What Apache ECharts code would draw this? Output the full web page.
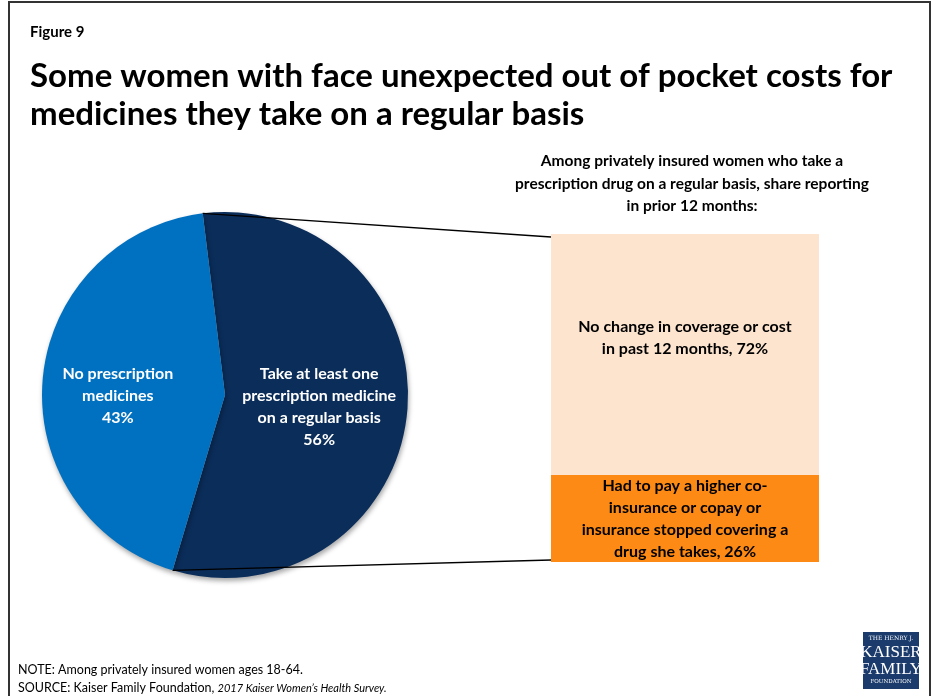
<!DOCTYPE html>
<html>
<head>
<meta charset="utf-8">
<script src="https://cdn.jsdelivr.net/npm/echarts@6/dist/echarts.min.js"></script>
<style>
  html, body { margin: 0; padding: 0; background: #ffffff; }
  #chart { width: 937px; height: 696px; }
</style>
</head>
<body>
<div id="chart"></div>
<script>
// Pie: share of privately insured women taking prescription medicine
const pieNames = [
  'Take at least one\nprescription medicine\non a regular basis',
  'No prescription\nmedicines'
];
const pieValues = [56, 43];

// Bar: experience in the prior 12 months among those taking a drug (bottom first)
const barNames = [
  'Had to pay a higher co-\ninsurance or copay or\ninsurance stopped covering a\ndrug she takes',
  'No change in coverage or cost\nin past 12 months'
];
const barValues = [26, 72];

const FONT = 'Lato, "Open Sans", sans-serif';
const pieColors = ['#0B2D5A', '#0070C0'];
const barColors = ['#FD8A14', '#FDE4CE'];

const pieCenter = [225, 395];
const pieRadius = 183;
const pieStart = 97;
const barGrid = { left: 551, top: 234, width: 268, height: 328 };

const pieTotal = pieValues.reduce((a, b) => a + b, 0);
const barTotal = barValues.reduce((a, b) => a + b, 0);

const chart = echarts.init(document.getElementById('chart'), null, { renderer: 'canvas' });

const pieLabelOffsets = [[0, 4], [-13, 9]];
const barLabelOffsets = [[0, 0], [0, -17]];

const option = {
  backgroundColor: '#ffffff',
  animation: false,
  title: [
    {
      text: 'Figure 9',
      left: 30, top: 25, padding: 0,
      textStyle: { fontFamily: FONT, fontWeight: 'bold', fontSize: 15, color: '#000' }
    },
    {
      text: 'Some women with face unexpected out of pocket costs for\nmedicines they take on a regular basis',
      left: 30, top: 57, padding: 0,
      textStyle: { fontFamily: FONT, fontWeight: 'bold', fontSize: 33, lineHeight: 38, color: '#000' }
    }
  ],
  grid: {
    left: barGrid.left, top: barGrid.top,
    width: barGrid.width, height: barGrid.height
  },
  xAxis: { type: 'category', data: ['share'], show: false },
  yAxis: { type: 'value', min: 0, max: barTotal, show: false },
  series: [
    {
      type: 'pie',
      center: pieCenter,
      radius: pieRadius,
      startAngle: pieStart,
      clockwise: true,
      silent: true,
      labelLine: { show: false },
      itemStyle: {
        borderWidth: 0,
        shadowBlur: 5,
        shadowOffsetX: 1,
        shadowOffsetY: 3,
        shadowColor: 'rgba(0,0,0,0.35)'
      },
      label: {
        show: true,
        position: 'inside',
        color: '#ffffff',
        fontFamily: FONT,
        fontWeight: 'bold',
        fontSize: 16,
        lineHeight: 22,
        align: 'center',
        formatter: p => p.name + '\n' + p.value + '%'
      },
      data: pieValues.map((v, i) => ({
        name: pieNames[i],
        value: v,
        itemStyle: { color: pieColors[i] },
        label: { offset: pieLabelOffsets[i] }
      }))
    },
    ...barValues.map((v, i) => ({
      type: 'bar',
      stack: 'total',
      barWidth: '100%',
      silent: true,
      name: barNames[i],
      itemStyle: { color: barColors[i] },
      label: {
        show: true,
        position: 'inside',
        color: '#000000',
        fontFamily: FONT,
        fontWeight: 'bold',
        fontSize: 16,
        lineHeight: 22,
        align: 'center',
        offset: barLabelOffsets[i],
        formatter: () => barNames[i] + ', ' + v + '%'
      },
      data: [v]
    }))
  ]
};

chart.setOption(option);

// Connector lines from the edges of the "take medicine" slice to the bar
const toRad = d => d * Math.PI / 180;
const a0 = pieStart;
const a1 = pieStart - pieValues[0] / pieTotal * 360;
const edge = a => [pieCenter[0] + pieRadius * Math.cos(toRad(a)), pieCenter[1] - pieRadius * Math.sin(toRad(a))];
const pTop = edge(a0);
const pBottom = edge(a1);
const barTopY = chart.convertToPixel({ yAxisIndex: 0 }, barTotal);
const barBottomY = chart.convertToPixel({ yAxisIndex: 0 }, 0);

chart.setOption({
  graphic: [
    {
      type: 'rect', z: 100, silent: true,
      shape: { x: 9, y: 2, width: 921, height: 720 },
      style: { fill: 'none', stroke: '#333333', lineWidth: 2 }
    },
    {
      type: 'line', z: 50, silent: true,
      shape: { x1: pTop[0], y1: pTop[1], x2: barGrid.left, y2: barTopY + 3 },
      style: { stroke: '#000000', lineWidth: 1.3 }
    },
    {
      type: 'line', z: 50, silent: true,
      shape: { x1: pBottom[0], y1: pBottom[1], x2: barGrid.left, y2: barBottomY - 2 },
      style: { stroke: '#000000', lineWidth: 1.3 }
    },
    {
      type: 'text', silent: true,
      x: 692, y: 150,
      style: {
        text: 'Among privately insured women who take a\nprescription drug on a regular basis, share reporting\nin prior 12 months:',
        align: 'center', verticalAlign: 'top',
        fontFamily: FONT, fontWeight: 'bold', fontSize: 15.5, lineHeight: 22.5, fill: '#000'
      }
    },
    {
      type: 'text', silent: true,
      x: 18, y: 661,
      style: {
        text: '{n|NOTE: Among privately insured women ages 18-64.}\n{n|SOURCE: Kaiser Family Foundation, }{i|2017 Kaiser Women\u2019s Health Survey.}',
        align: 'left', verticalAlign: 'top',
        lineHeight: 18,
        rich: {
          n: { fontFamily: FONT, fontSize: 12.5, fill: '#000', lineHeight: 18 },
          i: { fontFamily: FONT, fontSize: 11, fontStyle: 'italic', fill: '#000', lineHeight: 18 }
        }
      }
    },
    {
      type: 'group', silent: true,
      x: 863, y: 632,
      children: [
        { type: 'rect', shape: { x: 0, y: 0, width: 56, height: 57 }, style: { fill: '#1A3B6C' } },
        { type: 'text', x: 28, y: 3, style: { text: 'THE HENRY J.', align: 'center', verticalAlign: 'top', fontFamily: '"DejaVu Serif", serif', fontSize: 6, fill: '#ffffff' } },
        { type: 'text', x: 28, y: 12, style: { text: 'KAISER', align: 'center', verticalAlign: 'top', fontFamily: '"Liberation Serif", serif', fontSize: 17, fill: '#ffffff' } },
        { type: 'text', x: 28, y: 29, style: { text: 'FAMILY', align: 'center', verticalAlign: 'top', fontFamily: '"Liberation Serif", serif', fontSize: 17, fill: '#ffffff' } },
        { type: 'text', x: 28, y: 47, style: { text: 'FOUNDATION', align: 'center', verticalAlign: 'top', fontFamily: '"DejaVu Serif", serif', fontSize: 5.5, fill: '#ffffff' } }
      ]
    }
  ]
});
</script>
</body>
</html>
